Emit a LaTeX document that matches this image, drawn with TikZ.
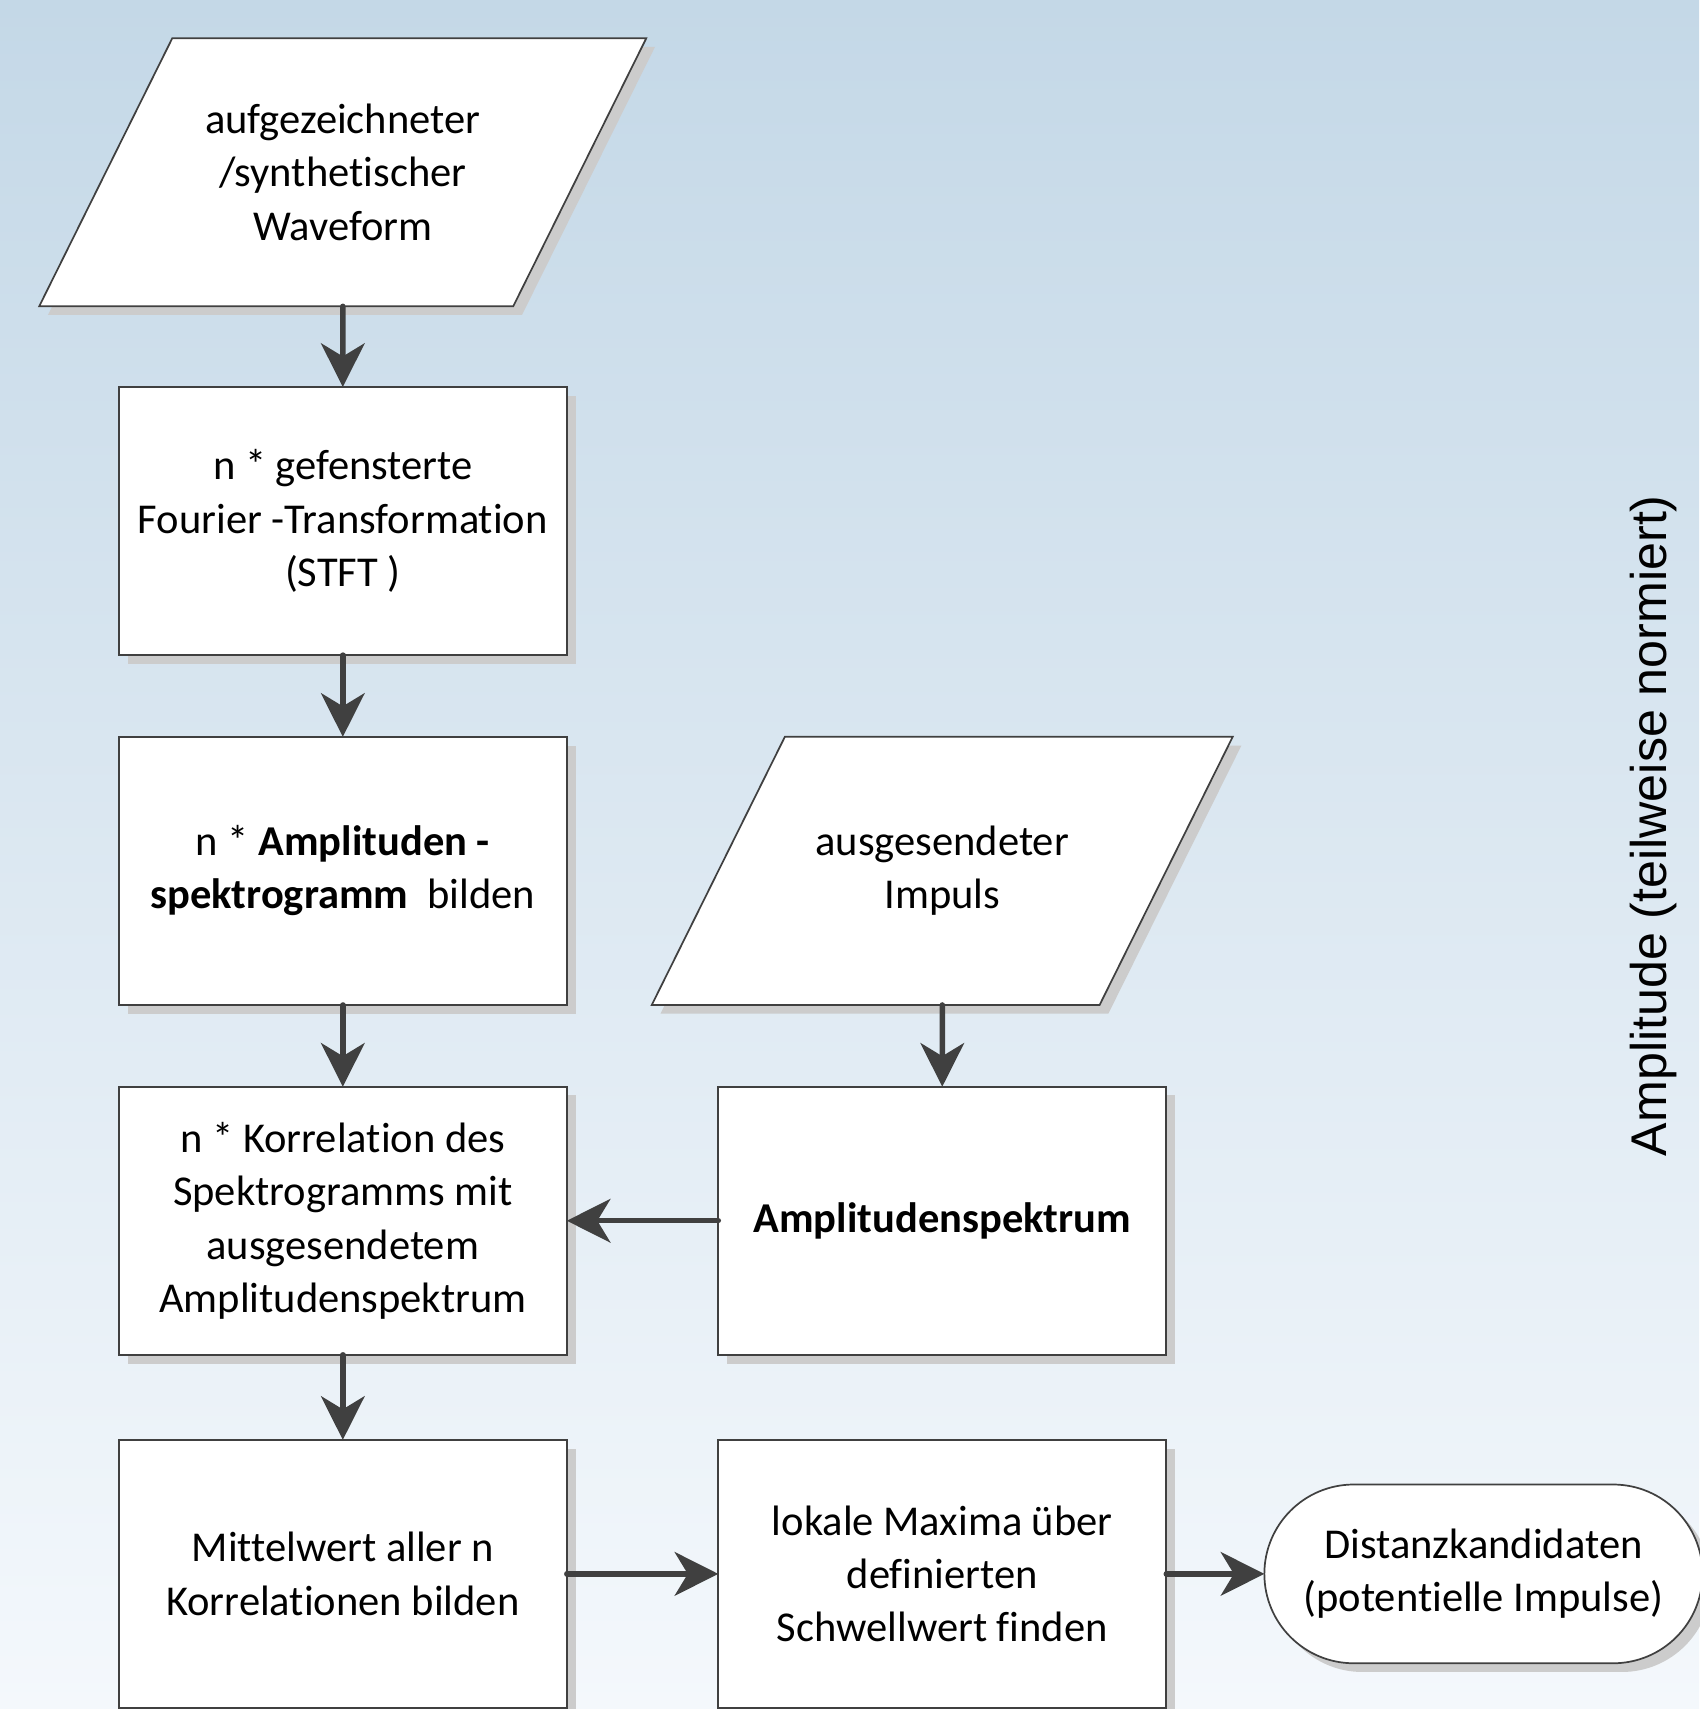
\documentclass[tikz,border=0pt]{standalone}
\usepackage{fontspec}
\setmainfont{Carlito}[Ligatures=NoCommon]
\newfontfamily\axisfont{Liberation Sans}
\usetikzlibrary{arrows.meta}
\usetikzlibrary{positioning}
\usetikzlibrary{shapes.geometric,shapes.misc,shadows}

\definecolor{bgtop}{RGB}{196,216,231}
\definecolor{bgbottom}{RGB}{244,248,252}
\definecolor{linegray}{RGB}{64,64,64}

% text block of fixed height, so the slant of the data shapes stays the same
\newcommand{\slantbox}[1]{\parbox[c][2.46cm][c]{2.8cm}{\centering #1}}

\begin{document}
\begin{tikzpicture}[
  txt/.style={font=\fontsize{11.1pt}{13.9pt}\selectfont, align=center},
  boxshadow/.style={drop shadow={shadow xshift=0.08cm,shadow yshift=-0.08cm,fill=black!20,opacity=1}},
  procbox/.style={rectangle, minimum width=4.11cm, minimum height=2.46cm},
  databox/.style={trapezium, trapezium left angle=63.6, trapezium right angle=116.4,
    trapezium stretches body=true, minimum width=5.57cm, minimum height=2.46cm},
  endbox/.style={rounded rectangle, minimum width=4.02cm, minimum height=1.64cm},
  flow/.style={draw=linegray, line width=0.05cm, line cap=round,
    -{Stealth[length=0.4cm,width=0.4cm,inset=0.12cm]}}
]
 \path[use as bounding box] (0,0) rectangle (15.59,-15.68);
 \fill[top color=bgtop, bottom color=bgbottom] (0,0) rectangle (15.59,-15.68);

 \begin{scope}[every node/.style={txt, draw=linegray, line width=0.45pt, fill=white, boxshadow, inner sep=0pt, outer sep=0pt}]
 \node [databox] (wave) at (3.145,-1.58) {\slantbox{aufgezeichneter\\/synthetischer\\Waveform}};
 \node [procbox, below=0.74cm of wave] (stft) {n * gefensterte\\Fourier -Transformation\\(STFT )};
 \node [procbox, below=0.75cm of stft] (spec) {n * \textbf{Amplituden -}\\\textbf{spektrogramm}\ \ bilden};
 \node [procbox, below=0.75cm of spec] (corr) {n * Korrelation des\\Spektrogramms mit\\ausgesendetem\\Amplitudenspektrum};
 \node [procbox, below=0.78cm of corr] (mean) {Mittelwert aller n\\Korrelationen bilden};
 \node [procbox, right=1.39cm of corr] (ampl) {\textbf{Amplitudenspektrum}};
 \node [databox, minimum width=5.33cm, above=0.75cm of ampl] (pulse) {\slantbox{ausgesendeter\\Impuls}};
 \node [procbox, right=1.39cm of mean] (maxima) {lokale Maxima über\\definierten\\Schwellwert finden};
 \node [endbox, right=0.9cm of maxima] (cand) {Distanzkandidaten\\(potentielle Impulse)};
 \end{scope}

 \node [rotate=90, font=\axisfont\fontsize{13.1pt}{15pt}\selectfont] (axislabel) at (15.17,-7.575) {Amplitude (teilweise normiert)};

 \draw [flow] (wave) -- (stft);
 \draw [flow] (stft) -- (spec);
 \draw [flow] (spec) -- (corr);
 \draw [flow] (corr) -- (mean);
 \draw [flow] (pulse) -- (ampl);
 \draw [flow] (ampl) -- (corr);
 \draw [flow] (mean) -- (maxima);
 \draw [flow] (maxima) -- (cand);
\end{tikzpicture}
\end{document}
